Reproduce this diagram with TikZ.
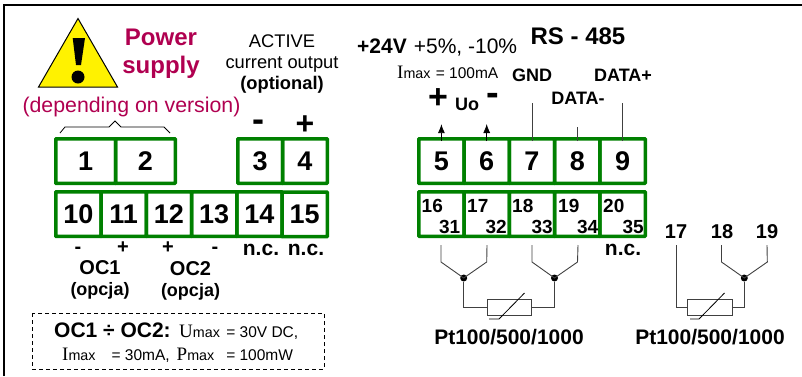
\documentclass[tikz,border=0pt]{standalone}
\usepackage{fontspec}
\setmainfont{Liberation Sans}
\newfontfamily\serifi{Liberation Serif}
\usetikzlibrary{matrix, positioning, arrows.meta}
\definecolor{termgreen}{RGB}{0,128,0}
\definecolor{powerred}{RGB}{176,0,80}
\tikzset{
  terminals/.style={
    matrix of nodes,
    line width=3.5pt,
    inner sep=0pt,
    anchor=north west,
    row sep=-\pgflinewidth,
    column sep=-\pgflinewidth,
    nodes={rectangle, draw=termgreen, rounded corners=0.5pt, align=center, inner sep=0pt,
      font=\fontsize{27}{27}\selectfont\bfseries, minimum height=44.5pt, minimum width=#1},
    nodes in empty cells,
  },
  lbl/.style={font=\fontsize{#1}{#1}\selectfont\bfseries, inner sep=0pt},
  pin/.style={font=\fontsize{19}{19}\selectfont\bfseries, inner sep=0pt},
  wire/.style={draw=black!75, line width=0.9pt},
  sensor/.style={rectangle, draw=black!75, line width=0.9pt, minimum width=44.5pt, minimum height=16pt, inner sep=0pt},
  dot/.style={circle, fill=black, inner sep=0pt, minimum size=7pt},
  up/.style={-{Latex[length=9pt,width=7pt]}, line width=0.8pt}
}
\newcommand{\Smax}[1]{{\serifi\fontsize{19}{19}\selectfont #1}{\fontsize{14.3}{14.3}\selectfont max}}
\begin{document}
\begin{tikzpicture}[x=1pt,y=-1pt]
  \useasboundingbox (0,0) rectangle (802,376);
  \draw[line width=2.2pt] (4,376) -- (4,5) -- (802,5);

  % warning sign
  \draw[fill=yellow, line width=1pt, line join=miter] (78,18.5) -- (117.5,87) -- (38.5,87) -- cycle;
  \fill (72.7,38) -- (85,38) -- (81,65) -- (76,65) -- cycle;
  \node[circle, fill=black, inner sep=0pt, minimum size=13pt] (warndot) at (78,77) {};
  \node[font=\fontsize{24}{28}\selectfont\bfseries, text=powerred, align=center, inner sep=0pt] (power) at (161,54) {Power\\supply};
  \node[font=\fontsize{21.3}{22}\selectfont, text=powerred, inner sep=0pt] (version) at (131.5,106.5) {(depending on version)};
  \node[font=\fontsize{18.3}{21}\selectfont, align=center, inner sep=0pt] (active) at (282,64) {ACTIVE\\current output\\\textbf{(optional)}};

  % terminal blocks
  \matrix (left) [terminals=59.75pt] at (52.25,135.25) {
    1&2\\
  };
  \matrix (right) [terminals=44.75pt] at (234.25,135.25) {
    3&4\\
  };
  \matrix (bottom) [terminals=45.25pt] at (52.25,188.25) {
    10&11&12&13&14&15\\
  };
  \matrix (top) [terminals=45.3pt] at (415.25,135.25) {
    5&6&7&8&9\\
  };
  \matrix (dual) [terminals=45.3pt] at (415.25,188.25) {
    {}&{}&{}&{}&{}\\
  };

  \node[pin, anchor=west] (n16) at (421.5,206) {16};
  \node[pin, anchor=west] (n17) at (467,206) {17};
  \node[pin, anchor=west] (n18) at (512,206) {18};
  \node[pin, anchor=west] (n19) at (558,206) {19};
  \node[pin, anchor=west] (n20) at (603,206) {20};
  \node[pin, anchor=east] (n31) at (460.5,227) {31};
  \node[pin, anchor=east] (n32) at (507,227) {32};
  \node[pin, anchor=east] (n33) at (553,227) {33};
  \node[pin, anchor=east] (n34) at (598.5,227) {34};
  \node[pin, anchor=east] (n35) at (644,227) {35};

  % brace over 1 and 2
  \coordinate (bl) at (60,133);
  \coordinate (br) at (170,133);
  \draw[line width=0.8pt] (bl) -- (65,127) -- (109,127) -- (115,121) -- (121,127) -- (164,127) -- (br);

  \node[lbl=36] (minus3) at (258,126) {-};
  \node[lbl=32] (plus4) at (305,125) {+};

  % labels below
  \node[lbl=20] (m10) at (78,250) {-};
  \node[lbl=20] (p11) at (123,248) {+};
  \node[lbl=20] (p12) at (168,248) {+};
  \node[lbl=20] (m13) at (215,250) {-};
  \node[lbl=21] (nc14) at (261,250) {n.c.};
  \node[lbl=21] (nc15) at (306,250) {n.c.};
  \node[lbl=20] (oc1) at (100,268) {OC1};
  \node[lbl=20] (oc2) at (190.5,269) {OC2};
  \node[lbl=18] (opc1) at (100,291) {(opcja)};
  \node[lbl=18] (opc2) at (190.5,292) {(opcja)};

  \draw[dash pattern=on 4pt off 3pt, line width=0.9pt] (32,313) rectangle (324,369);
  \node[anchor=west, inner sep=0pt] (limits1) at (54,331) {\fontsize{21}{21}\selectfont\bfseries OC1 ÷ OC2:\hspace{8.5pt}\mdseries\Smax{U}\hspace{2pt}{\fontsize{15.5}{15.5}\selectfont{} = 30V DC,}};
  \node[anchor=west, inner sep=0pt] (limits2) at (62,355) {\Smax{I}\hspace{16pt}{\fontsize{15.5}{15.5}\selectfont = 30mA,}\hspace{7pt}\Smax{P}\hspace{12pt}{\fontsize{15.5}{15.5}\selectfont = 100mW}};

  % right top
  \node[anchor=west, inner sep=0pt] (supply) at (357,47.5) {\fontsize{21}{21}\selectfont\bfseries +24V\hspace{7pt}\mdseries +5\%, -10\%};
  \node[lbl=24] (rs) at (578,36) {RS - 485};
  \node[anchor=west, inner sep=0pt] (imax) at (397,72) {\Smax{I}\hspace{1pt}\fontsize{15.5}{15.5}\selectfont{} = 100mA};
  \node[lbl=18] (gnd) at (532,75) {GND};
  \node[lbl=18] (dp) at (623,75) {DATA+};
  \node[lbl=18] (dm) at (578,98) {DATA-};
  \node[lbl=34] (plusu) at (438,99) {+};
  \node[lbl=18] (uo) at (467,104) {Uo};
  \node[lbl=38] (minusu) at (493,99) {-};
  \draw[up] ([yshift=-4pt]top-1-1.north) -- ++(0,-17);
  \draw[up] ([yshift=-4pt]top-1-2.north) -- ++(0,-17);
  \draw[wire] ([yshift=-4pt]top-1-3.north) -- ++(0,-38);
  \draw[wire] ([yshift=-4pt]top-1-4.north) -- ++(0,-14);
  \draw[wire] ([yshift=-4pt]top-1-5.north) -- ++(0,-38);
  \node[lbl=21] (nc20) at (623,250) {n.c.};

  % sensor wiring left
  \node[dot] (ja) at (463.7,278) {};
  \node[dot] (jb) at (554.5,278) {};
  \node[sensor] (ptl) at (509.5,307) {};
  \coordinate (ta) at (441,245);
  \coordinate (tb) at (487,245);
  \coordinate (tc) at (532,245);
  \coordinate (td) at (578,245);
  \draw[wire] (ta) -- ++(0,17) -- (ja.center) -- ++(23,-16) -- (tb);
  \draw[wire] (tc) -- ++(0,17) -- (jb.center) -- ++(23,-16) -- (td);
  \draw[wire] (ja) |- (ptl.west);
  \draw[wire] (jb) |- (ptl.east);
  \draw[line width=0.8pt] (489,319) -- (499,319) -- (524.5,293);
  \node[lbl=21] (ptla) at (509,337) {Pt100/500/1000};

  % sensor wiring right
  \node[lbl=20] (t17) at (676,232) {17};
  \node[lbl=20] (t18) at (722,232) {18};
  \node[lbl=20] (t19) at (767,232) {19};
  \coordinate (te) at (676,245);
  \coordinate (tf) at (721.5,245);
  \coordinate (tg) at (767,245);
  \node[dot] (jc) at (744.3,278) {};
  \node[sensor] (ptr) at (710,307) {};
  \draw[wire] (te) |- (ptr.west);
  \draw[wire] (tf) -- ++(0,17) -- (jc.center) -- ++(23,-16) -- (tg);
  \draw[wire] (jc) |- (ptr.east);
  \draw[line width=0.8pt] (690,319) -- (699,319) -- (724.5,293);
  \node[lbl=21] (ptra) at (710,337) {Pt100/500/1000};
\end{tikzpicture}
\end{document}
